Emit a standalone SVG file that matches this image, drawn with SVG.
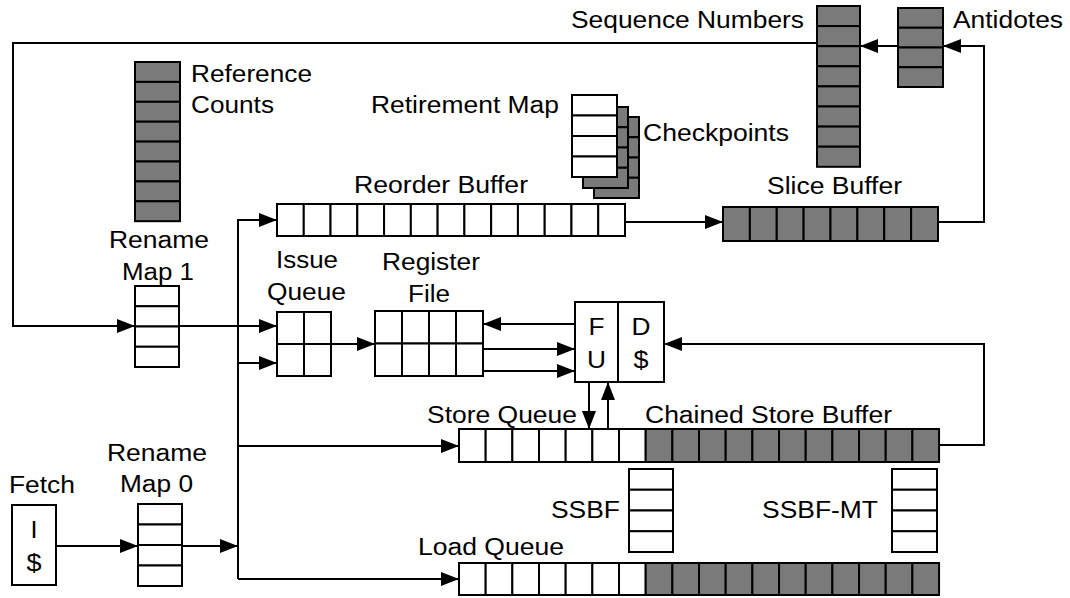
<svg xmlns="http://www.w3.org/2000/svg" width="1070" height="598" viewBox="0 0 1070 598">
  <style>
    .w { fill: #ffffff; stroke: #000000; stroke-width: 2; }
    .g { fill: #7a7a7a; stroke: #000000; stroke-width: 2; }
    .ln { fill: none; stroke: #000000; stroke-width: 2; marker-end: url(#ah); }
    .pl { fill: none; stroke: #000000; stroke-width: 2; }
    text { font-family: "Liberation Sans", Arial, Helvetica, sans-serif; font-size: 23.5px; fill: #000000; }
    .c { text-anchor: middle; }
  </style>
  <defs>
    <marker id="ah" markerUnits="userSpaceOnUse" markerWidth="18" markerHeight="14" refX="18" refY="7" orient="auto">
      <path d="M0,0 L18,7 L0,14 z" fill="#000000"/>
    </marker>
  </defs>
  <rect x="0" y="0" width="1070" height="598" fill="#ffffff"/>

  <!-- connectors -->
  <g id="connectors">
    <path class="ln" d="M817,43 H13 V326 H135"/>
    <path class="ln" d="M179,326 H277"/>
    <path class="ln" d="M238,579 V220 H277"/>
    <path class="ln" d="M238,579 H459"/>
    <path class="ln" d="M238,363 H277"/>
    <path class="ln" d="M238,446 H459"/>
    <path class="ln" d="M56,546 H138"/>
    <path class="ln" d="M182,546 H238"/>
    <path class="ln" d="M331,344 H375"/>
    <path class="ln" d="M575,324 H483"/>
    <path class="ln" d="M483,349 H575"/>
    <path class="ln" d="M483,371 H575"/>
    <path class="ln" d="M589,382 V429"/>
    <path class="ln" d="M608,429 V382"/>
    <path class="ln" d="M939,445 H984 V344 H664"/>
    <path class="ln" d="M625,222 H723"/>
    <path class="ln" d="M938,222 H984 V46 H943"/>
    <path class="ln" d="M898,46 H860"/>
  </g>

  <!-- reference counts -->
  <g id="reference-counts">
    <rect class="g" x="135" y="62" width="45" height="19.9"/>
    <rect class="g" x="135" y="81.9" width="45" height="19.9"/>
    <rect class="g" x="135" y="101.8" width="45" height="19.9"/>
    <rect class="g" x="135" y="121.7" width="45" height="19.9"/>
    <rect class="g" x="135" y="141.6" width="45" height="19.9"/>
    <rect class="g" x="135" y="161.5" width="45" height="19.9"/>
    <rect class="g" x="135" y="181.4" width="45" height="19.9"/>
    <rect class="g" x="135" y="201.3" width="45" height="19.9"/>
    <text x="191" y="82" textLength="121" lengthAdjust="spacingAndGlyphs">Reference</text>
    <text x="191" y="113" textLength="83" lengthAdjust="spacingAndGlyphs">Counts</text>
  </g>

  <!-- sequence numbers -->
  <g id="sequence-numbers">
    <rect class="g" x="817" y="6" width="43" height="20.1"/>
    <rect class="g" x="817" y="26.1" width="43" height="20.1"/>
    <rect class="g" x="817" y="46.2" width="43" height="20.1"/>
    <rect class="g" x="817" y="66.3" width="43" height="20.1"/>
    <rect class="g" x="817" y="86.4" width="43" height="20.1"/>
    <rect class="g" x="817" y="106.5" width="43" height="20.1"/>
    <rect class="g" x="817" y="126.6" width="43" height="20.1"/>
    <rect class="g" x="817" y="146.7" width="43" height="20.1"/>
    <text x="571" y="28" textLength="233" lengthAdjust="spacingAndGlyphs">Sequence Numbers</text>
  </g>

  <!-- antidotes -->
  <g id="antidotes">
    <rect class="g" x="898" y="8" width="45" height="19.75"/>
    <rect class="g" x="898" y="27.75" width="45" height="19.75"/>
    <rect class="g" x="898" y="47.5" width="45" height="19.75"/>
    <rect class="g" x="898" y="67.25" width="45" height="19.75"/>
    <text x="953" y="28" textLength="110" lengthAdjust="spacingAndGlyphs">Antidotes</text>
  </g>

  <!-- checkpoints (back copies) -->
  <g id="checkpoints">
    <rect class="g" x="594" y="117" width="45" height="20.25"/>
    <rect class="g" x="594" y="137.25" width="45" height="20.25"/>
    <rect class="g" x="594" y="157.5" width="45" height="20.25"/>
    <rect class="g" x="594" y="177.75" width="45" height="20.25"/>
    <rect class="g" x="583" y="107" width="45" height="20.25"/>
    <rect class="g" x="583" y="127.25" width="45" height="20.25"/>
    <rect class="g" x="583" y="147.5" width="45" height="20.25"/>
    <rect class="g" x="583" y="167.75" width="45" height="20.25"/>
    <text x="643" y="141" textLength="146" lengthAdjust="spacingAndGlyphs">Checkpoints</text>
  </g>

  <!-- retirement map -->
  <g id="retirement-map">
    <rect class="w" x="572" y="95" width="45" height="20.5"/>
    <rect class="w" x="572" y="115.5" width="45" height="20.5"/>
    <rect class="w" x="572" y="136" width="45" height="20.5"/>
    <rect class="w" x="572" y="156.5" width="45" height="20.5"/>
    <text x="371" y="113" textLength="188" lengthAdjust="spacingAndGlyphs">Retirement Map</text>
  </g>

  <!-- reorder buffer -->
  <g id="reorder-buffer">
    <rect class="w" x="277" y="204" width="26.77" height="32"/>
    <rect class="w" x="303.77" y="204" width="26.77" height="32"/>
    <rect class="w" x="330.54" y="204" width="26.77" height="32"/>
    <rect class="w" x="357.31" y="204" width="26.77" height="32"/>
    <rect class="w" x="384.08" y="204" width="26.77" height="32"/>
    <rect class="w" x="410.85" y="204" width="26.77" height="32"/>
    <rect class="w" x="437.62" y="204" width="26.77" height="32"/>
    <rect class="w" x="464.39" y="204" width="26.77" height="32"/>
    <rect class="w" x="491.16" y="204" width="26.77" height="32"/>
    <rect class="w" x="517.93" y="204" width="26.77" height="32"/>
    <rect class="w" x="544.7" y="204" width="26.77" height="32"/>
    <rect class="w" x="571.47" y="204" width="26.77" height="32"/>
    <rect class="w" x="598.24" y="204" width="26.77" height="32"/>
    <text x="354" y="193" textLength="174" lengthAdjust="spacingAndGlyphs">Reorder Buffer</text>
  </g>

  <!-- slice buffer -->
  <g id="slice-buffer">
    <rect class="g" x="723" y="207" width="26.875" height="34"/>
    <rect class="g" x="749.875" y="207" width="26.875" height="34"/>
    <rect class="g" x="776.75" y="207" width="26.875" height="34"/>
    <rect class="g" x="803.625" y="207" width="26.875" height="34"/>
    <rect class="g" x="830.5" y="207" width="26.875" height="34"/>
    <rect class="g" x="857.375" y="207" width="26.875" height="34"/>
    <rect class="g" x="884.25" y="207" width="26.875" height="34"/>
    <rect class="g" x="911.125" y="207" width="26.875" height="34"/>
    <text x="767" y="194" textLength="135" lengthAdjust="spacingAndGlyphs">Slice Buffer</text>
  </g>

  <!-- rename map 1 -->
  <g id="rename-map-1">
    <rect class="w" x="135" y="286" width="44" height="20.25"/>
    <rect class="w" x="135" y="306.25" width="44" height="20.25"/>
    <rect class="w" x="135" y="326.5" width="44" height="20.25"/>
    <rect class="w" x="135" y="346.75" width="44" height="20.25"/>
    <text x="109" y="248" textLength="100" lengthAdjust="spacingAndGlyphs">Rename</text>
    <text x="122" y="280" textLength="72" lengthAdjust="spacingAndGlyphs">Map 1</text>
  </g>

  <!-- issue queue -->
  <g id="issue-queue">
    <rect class="w" x="277" y="312" width="27" height="32"/>
    <rect class="w" x="304" y="312" width="27" height="32"/>
    <rect class="w" x="277" y="344" width="27" height="32"/>
    <rect class="w" x="304" y="344" width="27" height="32"/>
    <text x="276" y="268" textLength="62" lengthAdjust="spacingAndGlyphs">Issue</text>
    <text x="267" y="300" textLength="79" lengthAdjust="spacingAndGlyphs">Queue</text>
  </g>

  <!-- register file -->
  <g id="register-file">
    <rect class="w" x="375" y="311" width="27" height="32.5"/>
    <rect class="w" x="402" y="311" width="27" height="32.5"/>
    <rect class="w" x="429" y="311" width="27" height="32.5"/>
    <rect class="w" x="456" y="311" width="27" height="32.5"/>
    <rect class="w" x="375" y="343.5" width="27" height="32.5"/>
    <rect class="w" x="402" y="343.5" width="27" height="32.5"/>
    <rect class="w" x="429" y="343.5" width="27" height="32.5"/>
    <rect class="w" x="456" y="343.5" width="27" height="32.5"/>
    <text x="382" y="270" textLength="98" lengthAdjust="spacingAndGlyphs">Register</text>
    <text x="408" y="302" textLength="42" lengthAdjust="spacingAndGlyphs">File</text>
  </g>

  <!-- functional unit -->
  <g id="functional-unit">
    <rect class="w" x="575" y="302" width="43" height="80"/>
    <text class="c" x="596.5" y="335" textLength="16" lengthAdjust="spacingAndGlyphs">F</text>
    <text class="c" x="596.5" y="368" textLength="19" lengthAdjust="spacingAndGlyphs">U</text>
  </g>

  <!-- data cache -->
  <g id="data-cache">
    <rect class="w" x="618" y="302" width="46" height="80"/>
    <text class="c" x="641" y="335" textLength="19" lengthAdjust="spacingAndGlyphs">D</text>
    <text class="c" x="641" y="368" textLength="15" lengthAdjust="spacingAndGlyphs">$</text>
  </g>

  <!-- store queue -->
  <g id="store-queue">
    <rect class="w" x="459" y="429" width="26.67" height="33"/>
    <rect class="w" x="485.67" y="429" width="26.67" height="33"/>
    <rect class="w" x="512.34" y="429" width="26.67" height="33"/>
    <rect class="w" x="539.01" y="429" width="26.67" height="33"/>
    <rect class="w" x="565.68" y="429" width="26.67" height="33"/>
    <rect class="w" x="592.35" y="429" width="26.67" height="33"/>
    <rect class="w" x="619.02" y="429" width="26.67" height="33"/>
    <text x="427" y="423" textLength="150" lengthAdjust="spacingAndGlyphs">Store Queue</text>
  </g>

  <!-- chained store buffer -->
  <g id="chained-store-buffer">
    <rect class="g" x="645.69" y="429" width="26.67" height="33"/>
    <rect class="g" x="672.36" y="429" width="26.67" height="33"/>
    <rect class="g" x="699.03" y="429" width="26.67" height="33"/>
    <rect class="g" x="725.7" y="429" width="26.67" height="33"/>
    <rect class="g" x="752.37" y="429" width="26.67" height="33"/>
    <rect class="g" x="779.04" y="429" width="26.67" height="33"/>
    <rect class="g" x="805.71" y="429" width="26.67" height="33"/>
    <rect class="g" x="832.38" y="429" width="26.67" height="33"/>
    <rect class="g" x="859.05" y="429" width="26.67" height="33"/>
    <rect class="g" x="885.72" y="429" width="26.67" height="33"/>
    <rect class="g" x="912.39" y="429" width="26.67" height="33"/>
    <text x="645" y="423" textLength="247" lengthAdjust="spacingAndGlyphs">Chained Store Buffer</text>
  </g>

  <!-- SSBF -->
  <g id="ssbf">
    <rect class="w" x="629" y="469" width="44" height="20.75"/>
    <rect class="w" x="629" y="489.75" width="44" height="20.75"/>
    <rect class="w" x="629" y="510.5" width="44" height="20.75"/>
    <rect class="w" x="629" y="531.25" width="44" height="20.75"/>
    <text x="551" y="518" textLength="69" lengthAdjust="spacingAndGlyphs">SSBF</text>
  </g>

  <!-- SSBF-MT -->
  <g id="ssbf-mt">
    <rect class="w" x="892" y="469" width="45" height="20.75"/>
    <rect class="w" x="892" y="489.75" width="45" height="20.75"/>
    <rect class="w" x="892" y="510.5" width="45" height="20.75"/>
    <rect class="w" x="892" y="531.25" width="45" height="20.75"/>
    <text x="762" y="518" textLength="116" lengthAdjust="spacingAndGlyphs">SSBF-MT</text>
  </g>

  <!-- load queue -->
  <g id="load-queue">
    <rect class="w" x="459" y="563" width="26.67" height="32"/>
    <rect class="w" x="485.67" y="563" width="26.67" height="32"/>
    <rect class="w" x="512.34" y="563" width="26.67" height="32"/>
    <rect class="w" x="539.01" y="563" width="26.67" height="32"/>
    <rect class="w" x="565.68" y="563" width="26.67" height="32"/>
    <rect class="w" x="592.35" y="563" width="26.67" height="32"/>
    <rect class="w" x="619.02" y="563" width="26.67" height="32"/>
    <rect class="g" x="645.69" y="563" width="26.67" height="32"/>
    <rect class="g" x="672.36" y="563" width="26.67" height="32"/>
    <rect class="g" x="699.03" y="563" width="26.67" height="32"/>
    <rect class="g" x="725.7" y="563" width="26.67" height="32"/>
    <rect class="g" x="752.37" y="563" width="26.67" height="32"/>
    <rect class="g" x="779.04" y="563" width="26.67" height="32"/>
    <rect class="g" x="805.71" y="563" width="26.67" height="32"/>
    <rect class="g" x="832.38" y="563" width="26.67" height="32"/>
    <rect class="g" x="859.05" y="563" width="26.67" height="32"/>
    <rect class="g" x="885.72" y="563" width="26.67" height="32"/>
    <rect class="g" x="912.39" y="563" width="26.67" height="32"/>
    <text x="418" y="555" textLength="146" lengthAdjust="spacingAndGlyphs">Load Queue</text>
  </g>

  <!-- fetch / instruction cache -->
  <g id="fetch">
    <rect class="w" x="12" y="505" width="44" height="80"/>
    <text class="c" x="34" y="538" textLength="7" lengthAdjust="spacingAndGlyphs">I</text>
    <text class="c" x="34" y="571" textLength="15" lengthAdjust="spacingAndGlyphs">$</text>
    <text x="9" y="493" textLength="66" lengthAdjust="spacingAndGlyphs">Fetch</text>
  </g>

  <!-- rename map 0 -->
  <g id="rename-map-0">
    <rect class="w" x="138" y="504" width="44" height="20.5"/>
    <rect class="w" x="138" y="524.5" width="44" height="20.5"/>
    <rect class="w" x="138" y="545" width="44" height="20.5"/>
    <rect class="w" x="138" y="565.5" width="44" height="20.5"/>
    <text x="107" y="461" textLength="100" lengthAdjust="spacingAndGlyphs">Rename</text>
    <text x="120" y="492" textLength="73" lengthAdjust="spacingAndGlyphs">Map 0</text>
  </g>
</svg>
